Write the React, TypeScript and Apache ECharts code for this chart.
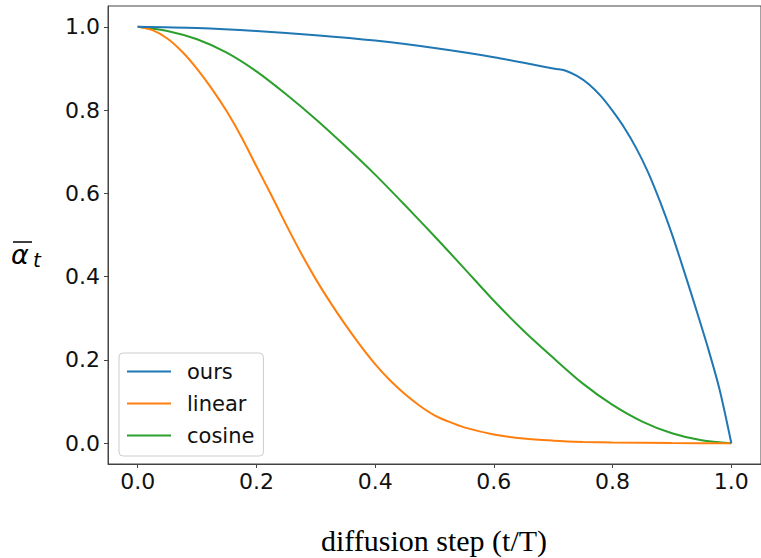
import React, { useEffect, useRef } from "react";
import * as echarts from "echarts";

const tickValues = [0, 0.2, 0.4, 0.6, 0.8, 1.0];

const oursX = [0, 0.1, 0.2, 0.3, 0.4, 0.5, 0.6, 0.7, 0.71, 0.72, 0.74, 0.76, 0.78, 0.8, 0.82, 0.84, 0.86, 0.88, 0.9, 0.92, 0.94, 0.96, 0.98, 1.0];
const oursY = [1.0, 0.997, 0.990, 0.980, 0.967, 0.949, 0.927, 0.900, 0.898, 0.895, 0.882, 0.862, 0.834, 0.798, 0.757, 0.708, 0.650, 0.580, 0.502, 0.415, 0.325, 0.232, 0.130, 0.0];

const linearX = [0, 0.025, 0.05, 0.075, 0.1, 0.125, 0.15, 0.175, 0.2, 0.225, 0.25, 0.275, 0.3, 0.325, 0.35, 0.375, 0.4, 0.425, 0.45, 0.475, 0.5, 0.525, 0.55, 0.6, 0.65, 0.7, 0.75, 0.8, 0.9, 1.0];
const linearY = [1.0, 0.992, 0.972, 0.940, 0.899, 0.851, 0.797, 0.735, 0.665, 0.596, 0.525, 0.457, 0.394, 0.337, 0.284, 0.235, 0.190, 0.151, 0.118, 0.090, 0.067, 0.051, 0.038, 0.021, 0.011, 0.006, 0.003, 0.0015, 0.0003, 0.0];

const cosineX = [0, 0.05, 0.1, 0.15, 0.2, 0.25, 0.3, 0.35, 0.4, 0.45, 0.5, 0.55, 0.6, 0.65, 0.7, 0.75, 0.8, 0.85, 0.9, 0.95, 1.0];
const cosineY = [1.0, 0.990, 0.970, 0.938, 0.893, 0.838, 0.778, 0.713, 0.645, 0.572, 0.497, 0.420, 0.342, 0.270, 0.205, 0.143, 0.092, 0.052, 0.024, 0.007, 0.0];

const seriesNames = ["ours", "linear", "cosine"];
const seriesColors = ["#1f77b4", "#ff7f0e", "#2ca02c"];

const pairs = (xs: number[], ys: number[]) => xs.map((x, i) => [x, ys[i]]);

export default function App() {
  const ref = useRef<HTMLDivElement>(null);
  useEffect(() => {
    if (!ref.current) return;
    const chart = echarts.init(ref.current, undefined, { renderer: "svg" });
    const axisCommon = {
      type: "value" as const,
      min: -0.05,
      max: 1.05,
      splitLine: { show: false },
      axisLine: { show: true, onZero: false, lineStyle: { color: "#444", width: 1 } },
      axisTick: { show: true, length: 4, lineStyle: { color: "#444" }, customValues: tickValues },
      axisLabel: {
        customValues: tickValues,
        formatter: (v: number) => v.toFixed(1),
        fontSize: 22,
        fontFamily: "DejaVu Sans",
        color: "#111",
      },
    };
    const data = [pairs(oursX, oursY), pairs(linearX, linearY), pairs(cosineX, cosineY)];
    chart.setOption({
      animation: false,
      backgroundColor: "#fff",
      grid: {
        left: 108,
        top: 6,
        right: -4,
        bottom: 94,
        show: true,
        borderColor: "#444",
        borderWidth: 1,
        backgroundColor: "transparent",
      },
      xAxis: { ...axisCommon, axisLabel: { ...axisCommon.axisLabel, margin: 6 } },
      yAxis: { ...axisCommon, axisLabel: { ...axisCommon.axisLabel, margin: 8 } },
      legend: {
        orient: "vertical",
        left: 119,
        top: 353,
        data: seriesNames.map((n) => ({ name: n, icon: "rect" })),
        itemWidth: 44,
        itemHeight: 2,
        itemGap: 11,
        padding: [8, 9, 10, 8],
        backgroundColor: "rgba(255,255,255,0.8)",
        borderColor: "#cccccc",
        borderWidth: 1,
        borderRadius: 4,
        textStyle: {
          fontSize: 21,
          fontFamily: "DejaVu Sans",
          color: "#111",
          lineHeight: 20,
          padding: [0, 0, 0, 11],
        },
      },
      series: seriesNames.map((n, i) => ({
        name: n,
        type: "line",
        data: data[i],
        showSymbol: false,
        symbol: "none",
        smooth: 0.3,
        color: seriesColors[i],
        lineStyle: { width: 2, color: seriesColors[i] },
        z: 2 + (2 - i),
      })),
      graphic: [
        {
          type: "text",
          x: 434,
          y: 540,
          style: {
            text: "diffusion step (t/T)",
            fontSize: 30,
            fontFamily: "Liberation Serif",
            fill: "#000",
            textAlign: "center",
            textVerticalAlign: "middle",
          },
        },
        {
          type: "text",
          x: 11,
          y: 254,
          style: {
            text: "α",
            fontSize: 27,
            fontStyle: "italic",
            fontFamily: "DejaVu Sans",
            fill: "#000",
            textAlign: "left",
            textVerticalAlign: "middle",
          },
        },
        {
          type: "line",
          shape: { x1: 13, y1: 242, x2: 32, y2: 242 },
          style: { stroke: "#000", lineWidth: 1.5 },
        },
        {
          type: "text",
          x: 33,
          y: 260,
          style: {
            text: "t",
            fontSize: 20,
            fontStyle: "italic",
            fontFamily: "DejaVu Sans",
            fill: "#000",
            textAlign: "left",
            textVerticalAlign: "middle",
          },
        },
      ],
    });
    return () => chart.dispose();
  }, []);
  return (
    <div
      ref={ref}
      style={{ position: "absolute", left: 0, top: 0, width: 761, height: 558, background: "#fff" }}
    />
  );
}
